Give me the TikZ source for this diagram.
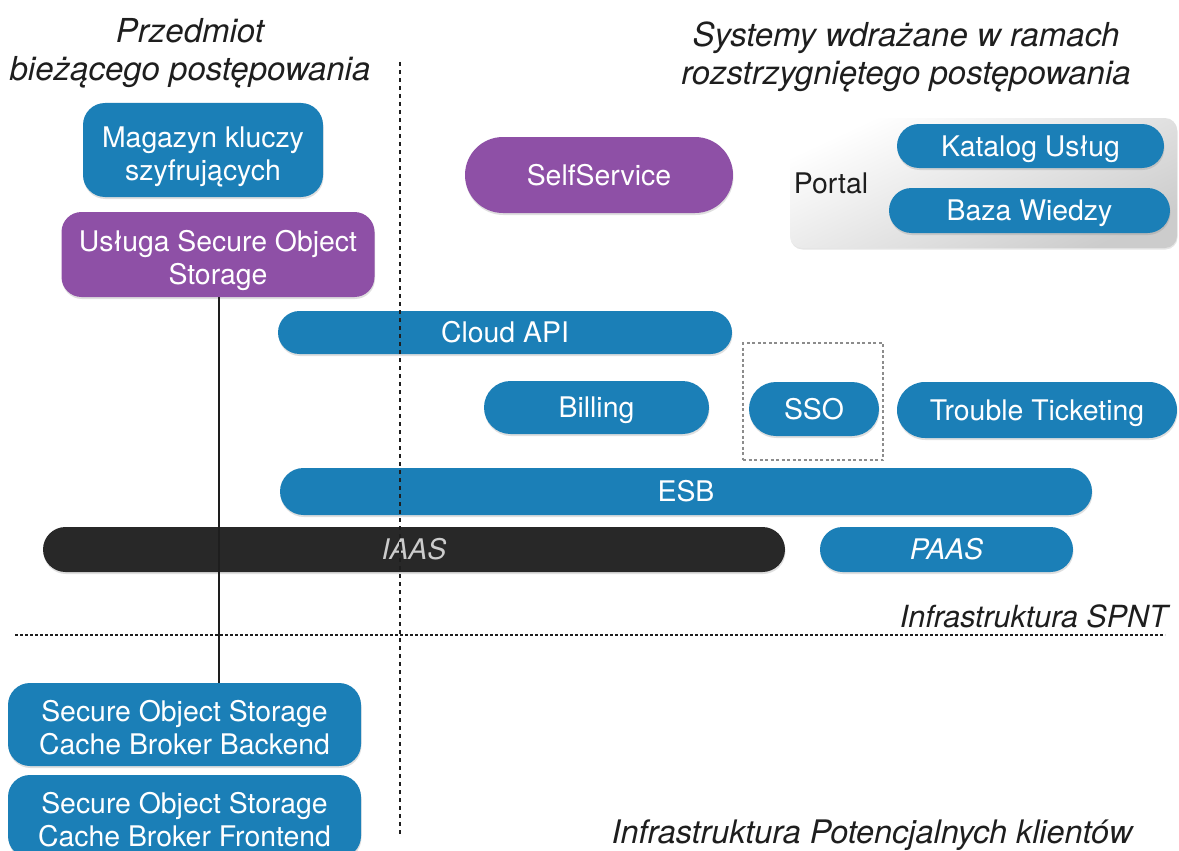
\documentclass[tikz,border=0pt]{standalone}
\usepackage{fontspec}
\setmainfont{TeX Gyre Heros}
\usetikzlibrary{shadows}
\definecolor{cblue}{RGB}{27,127,183}
\definecolor{cpurple}{RGB}{142,80,166}
\definecolor{cdark}{RGB}{40,40,40}
\definecolor{ctext}{RGB}{30,30,30}
\newcommand{\fmain}{\fontsize{28.4}{33}\selectfont}
\newcommand{\ftitle}{\fontsize{33}{38}\selectfont\itshape}
\begin{document}
\begin{tikzpicture}[x=1pt,y=-1pt,
  base/.style={rectangle, inner sep=0pt, align=center, font=\fmain, text=white,
    text height=20.5pt, text depth=0pt,
    drop shadow={shadow xshift=0.5pt, shadow yshift=-2pt, opacity=0.25}},
  bluebox/.style={base, fill=cblue},
  purplebox/.style={base, fill=cpurple},
  twoline/.style={text height=60pt, text depth=0pt},
  darkbox/.style={base, fill=cdark, text=black!20, font=\fmain\itshape},
  titletext/.style={inner sep=0pt, align=center, font=\ftitle, text=ctext},
  grouplabel/.style={inner sep=0pt, font=\fmain, text=ctext, text height=20.5pt, text depth=0pt},
  dotline/.style={line width=2pt, dash pattern=on 4pt off 4pt, ctext},
  hdotline/.style={line width=2.5pt, dash pattern=on 2.5pt off 2.5pt, ctext},
  ssogroupbox/.style={rectangle, draw=black!45, line width=1.2pt, dash pattern=on 3pt off 2.5pt, inner sep=0pt},
  portalbox/.style={rectangle, inner sep=0pt, rounded corners=12pt, top color=white, bottom color=black!20, shading angle=25,
    drop shadow={shadow xshift=0.5pt, shadow yshift=-1.5pt, opacity=0.2}}
]
\useasboundingbox (0,0) rectangle (1179,851);
\fill[white] (0,0) rectangle (1179,851);

% titles
\node[titletext] (titleL) at (190,53) {Przedmiot\\bieżącego postępowania};
\node[titletext] (titleR) at (906,57) {Systemy wdrażane w ramach\\rozstrzygniętego postępowania};

% left column
\node[bluebox, twoline, minimum width=240pt, minimum height=94pt, rounded corners=22pt] (mag) at (203,150) {Magazyn kluczy\\szyfrujących};
\node[purplebox, twoline, minimum width=313pt, minimum height=85pt, rounded corners=20pt] (uslo) at (218,254.5) {Usługa Secure Object\\Storage};

% self service and portal
\node[purplebox, minimum width=268pt, minimum height=76pt, rounded corners=38pt] (self) at (599,175) {SelfService};
\node[portalbox, minimum width=387pt, minimum height=130pt] (portal) at (983.5,183) {};
\node[grouplabel] (portallbl) at (831,183) {Portal};
\node[bluebox, minimum width=267pt, minimum height=44pt, rounded corners=22pt] (kat) at (1030.5,146) {Katalog Usług};
\node[bluebox, minimum width=281pt, minimum height=45pt, rounded corners=22.5pt] (baza) at (1029.5,210.5) {Baza Wiedzy};

% middle layers
\node[bluebox, minimum width=454pt, minimum height=43pt, rounded corners=21.5pt] (cloud) at (505,332.5) {Cloud API};
\node[ssogroupbox, minimum width=140pt, minimum height=117pt] (ssogrp) at (813,401.5) {};
\node[bluebox, minimum width=225pt, minimum height=53pt, rounded corners=26.5pt] (billing) at (596.5,407.5) {Billing};
\node[bluebox, minimum width=130pt, minimum height=54pt, rounded corners=27pt] (sso) at (814,409) {SSO};
\node[bluebox, minimum width=280pt, minimum height=56pt, rounded corners=28pt] (trouble) at (1037,410) {Trouble Ticketing};
\node[bluebox, minimum width=812pt, minimum height=47pt, rounded corners=23.5pt] (esb) at (686,491.5) {ESB};
\node[darkbox, minimum width=742pt, minimum height=45pt, rounded corners=22.5pt] (iaas) at (414,549.5) {IAAS};
\node[bluebox, font=\fmain\itshape, minimum width=253pt, minimum height=45pt, rounded corners=22.5pt] (paas) at (946.5,549.5) {PAAS};

% bottom left
\node[bluebox, twoline, minimum width=353pt, minimum height=83pt, rounded corners=22pt] (backend) at (184.5,724.5) {Secure Object Storage\\Cache Broker Backend};
\node[bluebox, twoline, minimum width=353pt, minimum height=83pt, rounded corners=22pt] (frontend) at (184.5,816.5) {Secure Object Storage\\Cache Broker Frontend};

% region labels
\node[titletext, font=\fontsize{30.5}{36}\selectfont\itshape, anchor=east] (spnt) at (1168,616) {Infrastruktura SPNT};
\node[titletext, font=\fontsize{32.4}{37}\selectfont\itshape] (klient) at (872,835) {Infrastruktura Potencjalnych klientów};

% separators
\coordinate (vtop) at (400,62);
\coordinate (vbot) at (400,836);
\coordinate (hleft) at (15,635);
\coordinate (hright) at (1165,635);
\draw[dotline] (vtop) -- (vbot);
\draw[hdotline] (hleft) -- (hright);

% connector
\draw[line width=1.8pt, ctext] (uslo.south -| 219,0) -- (backend.north -| 219,0);
\end{tikzpicture}
\end{document}
